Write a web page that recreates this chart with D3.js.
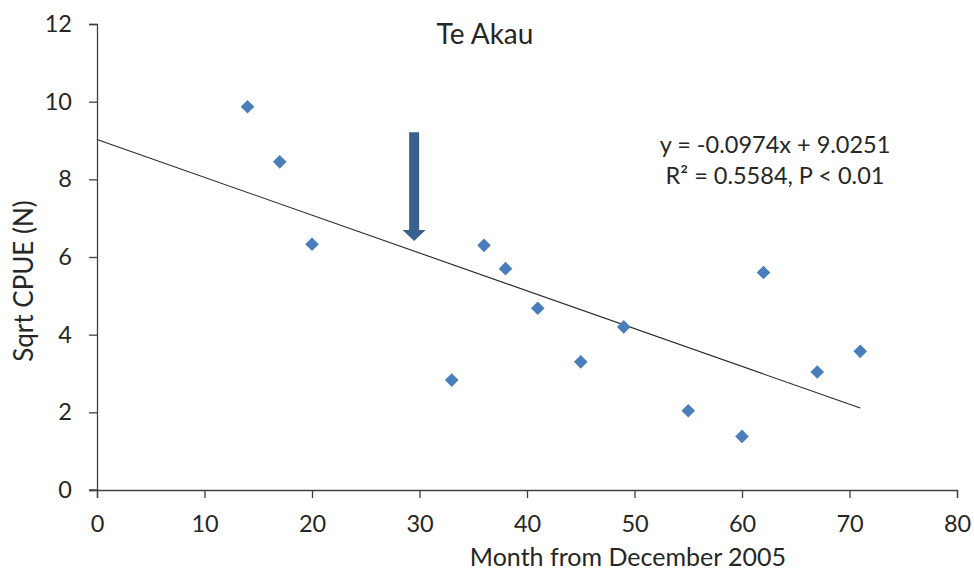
<!DOCTYPE html>
<html>
<head>
<meta charset="utf-8">
<script src="https://cdn.jsdelivr.net/npm/d3@7"></script>
<style>
  html, body { margin: 0; padding: 0; background: #fff; }
  svg { display: block; }
  text { font-family: Lato, "Open Sans", sans-serif; fill: #262626; }
</style>
</head>
<body>
<svg id="chart" width="974" height="571"></svg>
<script>
// ---- data ----
const months = [14, 17, 20, 33, 36, 38, 41, 45, 49, 55, 60, 62, 67, 71];
const sqrtCpue = [9.87, 8.45, 6.33, 2.83, 6.3, 5.7, 4.68, 3.3, 4.2, 2.04, 1.38, 5.6, 3.04, 3.57];
const xTicks = [0, 10, 20, 30, 40, 50, 60, 70, 80];
const yTicks = [0, 2, 4, 6, 8, 10, 12];
const slope = -0.0974;
const intercept = 9.0251;
const trendRange = [0, 71];
const arrowMonth = 29.5;
const arrowRange = [9.21, 6.41];
const titleText = "Te Akau";
const xLabel = "Month from December 2005";
const yLabel = "Sqrt CPUE (N)";
const eqLines = ["y = -0.0974x + 9.0251", "R\u00B2 = 0.5584, P < 0.01"];

// ---- layout ----
const svg = d3.select("#chart");
const x = d3.scaleLinear().domain([0, 80]).range([97, 957]);
const y = d3.scaleLinear().domain([0, 12]).range([490, 24]);
const axisColor = "#404040";

// axes
const xAxis = svg.append("g").attr("transform", `translate(0,${y(0)})`)
  .call(d3.axisBottom(x).tickValues(xTicks).tickSize(8).tickPadding(17).tickFormat(d3.format("d")));
const yAxis = svg.append("g").attr("transform", `translate(${x(0)},0)`)
  .call(d3.axisLeft(y).tickValues(yTicks).tickSize(8).tickPadding(17).tickFormat(d3.format("d")));
[xAxis, yAxis].forEach(g => {
  g.select(".domain").attr("stroke", axisColor).attr("stroke-width", 1.3);
  g.selectAll(".tick line").attr("stroke", axisColor).attr("stroke-width", 1.3);
  g.selectAll(".tick text").style("font-size", "23.5px").style("font-family", "Lato, 'Open Sans', sans-serif").attr("fill", "#262626");
});
svg.append("line").attr("x1", x(0) - 8).attr("x2", x(0)).attr("y1", y(0)).attr("y2", y(0))
  .attr("stroke", axisColor).attr("stroke-width", 1.3);

// trend line
svg.append("line")
  .attr("x1", x(trendRange[0])).attr("y1", y(slope * trendRange[0] + intercept))
  .attr("x2", x(trendRange[1])).attr("y2", y(slope * trendRange[1] + intercept))
  .attr("stroke", "#262626").attr("stroke-width", 1.1);

// points (diamonds)
const r = 6.8;
const diamond = `M0,${-r}L${r},0L0,${r}L${-r},0Z`;
svg.append("g").selectAll("path").data(months.map((m, i) => [m, sqrtCpue[i]]))
  .join("path")
  .attr("d", diamond)
  .attr("transform", d => `translate(${x(d[0])},${y(d[1])})`)
  .attr("fill", "#4a7ebb");

// arrow
const ax = x(arrowMonth), ay0 = y(arrowRange[0]), ay1 = y(arrowRange[1]);
const shaftW = 5, headW = 11.5, headH = 11;
svg.append("path")
  .attr("d", `M${ax - shaftW},${ay0}L${ax + shaftW},${ay0}L${ax + shaftW},${ay1 - headH}L${ax + headW},${ay1 - headH}L${ax},${ay1}L${ax - headW},${ay1 - headH}L${ax - shaftW},${ay1 - headH}Z`)
  .attr("fill", "#3a6090");

// title
svg.append("text").attr("x", 485).attr("y", 44).attr("text-anchor", "middle")
  .style("font-size", "28px").text(titleText);

// equation
svg.append("g").selectAll("text").data(eqLines).join("text")
  .attr("x", 775).attr("y", (d, i) => 153 + i * 31)
  .attr("text-anchor", "middle").style("font-size", "23.5px").text(d => d);

// axis labels
svg.append("text").attr("x", 628).attr("y", 566).attr("text-anchor", "middle")
  .style("font-size", "25px").text(xLabel);
svg.append("text").attr("transform", `translate(33,${281}) rotate(-90)`).attr("text-anchor", "middle")
  .style("font-size", "26px").text(yLabel);
</script>
</body>
</html>
